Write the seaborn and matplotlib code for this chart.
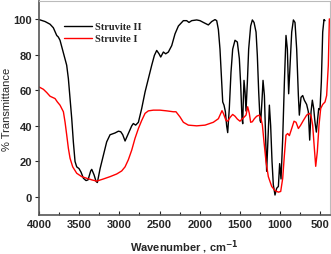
import numpy as np
import pandas as pd
import matplotlib
matplotlib.use("Agg")
import matplotlib.pyplot as plt
import seaborn as sns
from matplotlib.ticker import MultipleLocator

# Struvite II (black)
wn_s2 = [4000, 3925, 3863, 3822, 3780, 3760, 3739, 3697, 3656, 3635, 3614, 3593, 3573,
         3552, 3531, 3502, 3477, 3448, 3415, 3390, 3357, 3344, 3315, 3290, 3274, 3240,
         3199, 3158, 3116, 3054, 3012, 2983, 2958, 2929, 2888, 2846, 2826, 2797, 2763,
         2722, 2680, 2639, 2597, 2564, 2535, 2506, 2485, 2452, 2423, 2390, 2348, 2307,
         2265, 2203, 2162, 2133, 2099, 2037, 1996, 1954, 1892, 1850, 1809, 1788, 1767,
         1747, 1726, 1713, 1697, 1680, 1664, 1651, 1631, 1610, 1589, 1560, 1531, 1506,
         1489, 1473, 1464, 1456, 1448, 1435, 1423, 1406, 1390, 1365, 1344, 1323, 1298,
         1282, 1265, 1248, 1240, 1223, 1211, 1194, 1178, 1166, 1149, 1132, 1116, 1099,
         1083, 1062, 1041, 1020, 1004, 987, 966, 945, 925, 908, 892, 875, 854, 833, 813,
         792, 771, 759, 738, 717, 697, 668, 647, 630, 613, 597, 580, 564, 547, 530, 518,
         502, 485, 468, 452, 439]
t_s2 = [99.6, 98.5, 97, 95, 90.7, 89.8, 88, 81, 74, 66.5, 55, 44, 31,
        20, 17, 16, 14, 10.6, 9.3, 9.7, 14.7, 15.6, 12.5, 8.8, 8.2, 16,
        23.6, 31, 35, 36, 37, 36.7, 35, 31.5, 35.7, 40, 41.3, 40.4, 42,
        49.7, 59, 66.5, 74, 79.5, 82.3, 80.4, 78.6, 81.4, 80.4, 81.4, 85, 91.6,
        96, 99, 99, 98, 99, 99.4, 99, 98, 96.6, 98.5, 99.6, 99, 94,
        83, 64.6, 53.4, 51.6, 48, 40, 36.2, 49.7, 70, 83, 88, 87, 77.7,
        62.8, 44, 41.2, 55, 65.5, 59, 48.3, 64.6, 83, 96, 99.4, 98, 92.6,
        79.5, 59, 43, 42, 55, 65.5, 57, 33, 14.5, 33, 51.6, 40, 20,
        7, 1.2, 5, 6, 18.8, 10.2, 33, 64.6, 90.7, 83, 58, 74, 92.6, 99.4, 98,
        83, 57, 46, 56, 57, 54.4, 52, 48, 32, 48, 54.4, 49.7, 42, 36.5, 44, 49.7,
        49, 64.6, 92.6, 99.6, 99]

# Struvite I (red)
wn_s1 = [4000, 3946, 3905, 3863, 3801, 3772, 3739, 3697, 3676, 3656, 3635, 3614, 3581,
         3531, 3469, 3407, 3344, 3282, 3199, 3116, 3033, 2971, 2929, 2888, 2846, 2805,
         2763, 2722, 2680, 2639, 2577, 2494, 2411, 2328, 2295, 2245, 2203, 2141, 2037,
         1933, 1830, 1767, 1722, 1705, 1672, 1651, 1622, 1589, 1560, 1531, 1498, 1469,
         1444, 1423, 1402, 1382, 1365, 1344, 1319, 1290, 1257, 1236, 1219, 1199, 1174,
         1145, 1103, 1062, 1020, 991, 966, 945, 925, 904, 883, 854, 825, 800, 771, 742,
         709, 668, 634, 613, 593, 572, 555, 535, 514, 493, 468, 439, 419, 398, 385]
t_s1 = [61.8, 60.5, 58.7, 56.6, 55.3, 53.4, 51.6, 47.9, 42, 35, 27.4, 21.8, 17,
        13.4, 11.5, 10.6, 9.7, 9.0, 10.2, 11.5, 13, 14.7, 17, 21, 26.4, 33,
        38.5, 43, 47, 48.4, 48.8, 48.8, 48.4, 47.9, 47.9, 45, 42, 40.4, 40,
        40.4, 42, 44, 48.5, 47, 43, 42.6, 44.7, 46.4, 45.4, 43.8, 42.6, 44,
        45, 46, 50.7, 47, 42, 42.3, 44, 45.4, 46, 44, 40.4, 31, 20,
        11.5, 6, 3.7, 2.8, 3.2, 10.6, 23.6, 34.8, 35.7, 34.5, 38.5, 42.6, 42, 38.5, 40.4,
        43, 46, 47, 45.6, 40.4, 27.4, 17.3, 25.5, 40.4, 49.7, 52, 53.4, 57, 74, 100]

df = pd.concat([
    pd.DataFrame({"wn": wn_s2, "T": t_s2, "sample": "Struvite II"}),
    pd.DataFrame({"wn": wn_s1, "T": t_s1, "sample": "Struvite I"}),
])

sns.set_style("white")
plt.rcParams["font.family"] = ["Liberation Sans", "DejaVu Sans"]

fig = plt.figure(figsize=(3.31, 2.55), dpi=100)
ax = fig.add_axes([0.118, 0.153, 0.879, 0.839])

sns.lineplot(data=df, x="wn", y="T", hue="sample", sort=False, estimator=None,
             palette={"Struvite II": "black", "Struvite I": "red"},
             linewidth=1.0, ax=ax)

ax.set_xlim(4000, 377)
ax.set_ylim(-10, 110)
ax.set_xticks([4000, 3500, 3000, 2500, 2000, 1500, 1000, 500])
ax.xaxis.set_minor_locator(MultipleLocator(250))
ax.set_yticks([0, 20, 40, 60, 80, 100])

ax.tick_params(axis="x", which="major", direction="in", length=3, width=0.8,
               labelsize=8, pad=3, bottom=True)
ax.tick_params(axis="x", which="minor", direction="in", length=2, width=0.8, bottom=True)
ax.tick_params(axis="y", which="major", direction="out", length=3, width=0.8,
               labelsize=8, pad=2, left=True)
for lab in ax.get_xticklabels() + ax.get_yticklabels():
    lab.set_fontweight("bold")

for side in ["left", "bottom"]:
    ax.spines[side].set_color("#555555")
    ax.spines[side].set_linewidth(1.2)
for side in ["top", "right"]:
    ax.spines[side].set_color("#bbbbbb")
    ax.spines[side].set_linewidth(0.8)

ax.set_ylabel("% Transmittance", fontsize=8, labelpad=1)
ax.set_xlabel(r"Wavenumber , cm$^{\mathbf{-1}}$", fontsize=8, fontweight="bold", labelpad=6)

leg = ax.legend(loc="upper left", bbox_to_anchor=(0.055, 0.945), frameon=False,
                handlelength=2.6, handletextpad=0.3, labelspacing=0.25,
                prop={"family": "Liberation Serif", "weight": "bold", "size": 7.5})

fig.savefig("out.png", dpi=100)
